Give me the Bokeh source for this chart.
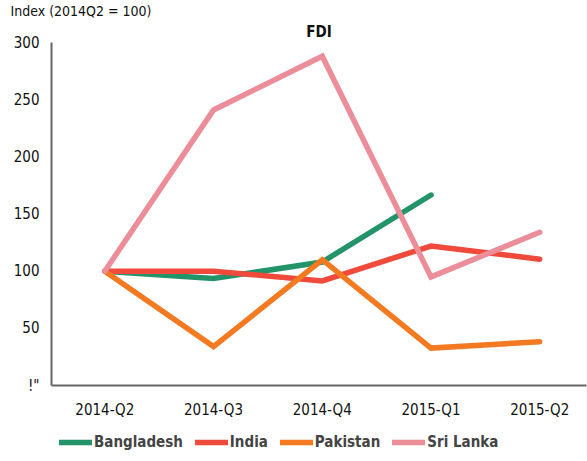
from bokeh.plotting import figure
from bokeh.embed import file_html
from bokeh.resources import INLINE
from bokeh.layouts import column
from bokeh.models import FixedTicker, Range1d, Legend, LegendItem, Title

quarters = ["2014-Q2", "2014-Q3", "2014-Q4", "2015-Q1", "2015-Q2"]
bangladesh = [100, 93.6, 108, 166.6]
india = [100, 100, 91.5, 122, 110.5]
pakistan = [100, 34, 110, 32.7, 38.3]
sri_lanka = [100, 241, 288, 95, 134]
y_ticks = [0, 50, 100, 150, 200, 250, 300]
y_tick_labels = ['!"', "50", "100", "150", "200", "250", "300"]

series = [
    ("Bangladesh", bangladesh, "#23936a"),
    ("India", india, "#ef4a3c"),
    ("Pakistan", pakistan, "#f47a22"),
    ("Sri Lanka", sri_lanka, "#ec8e99"),
]

FONT = "DejaVu Sans Condensed"

p = figure(frame_width=535, frame_height=343, output_backend="svg", toolbar_location=None,
           x_range=Range1d(-0.49, 4.43), y_range=Range1d(0, 300),
           min_border_left=51, min_border_right=1, min_border_top=0,
           min_border_bottom=0)
p.outline_line_color = None
p.grid.visible = False
p.background_fill_color = "white"

for name, vals, col in series:
    p.line(list(range(len(vals))), vals, line_color=col, line_width=5.5,
           line_cap="round", line_join="miter")

p.xaxis.ticker = FixedTicker(ticks=list(range(len(quarters))))
p.xaxis.major_label_overrides = {i: q for i, q in enumerate(quarters)}
p.yaxis.ticker = FixedTicker(ticks=y_ticks)
p.yaxis.major_label_overrides = {t: l for t, l in zip(y_ticks, y_tick_labels)}

for ax in (p.xaxis[0], p.yaxis[0]):
    ax.axis_line_color = "#666666"
    ax.axis_line_width = 2
    ax.major_tick_line_color = None
    ax.minor_tick_line_color = None
    ax.major_label_text_font = FONT
    ax.major_label_text_font_size = "15px"
    ax.major_label_text_color = "#111111"
p.xaxis.major_label_standoff = 9
p.yaxis.major_label_standoff = 6

p.title.text = "Index (2014Q2 = 100)"
p.title.align = "left"
p.title.offset = -41
p.title.text_font = FONT
p.title.text_font_style = "normal"
p.title.text_font_size = "14px"
p.title.text_color = "#111111"
p.title.standoff = 0
p.add_layout(Title(text="FDI", align="center", text_font=FONT, text_font_style="bold",
                   text_font_size="15px", text_color="#111111", standoff=4), "above")

# legend strip below the chart
lg = figure(width=587, height=36, output_backend="svg", toolbar_location=None,
            x_range=Range1d(0, 1), y_range=Range1d(1000, 1001),
            min_border=0, x_axis_type=None, y_axis_type=None)
lg.outline_line_color = None
lg.grid.visible = False
items = []
for name, vals, col in series:
    r = lg.line(list(range(len(vals))), vals, line_color=col, line_width=5.5,
                line_cap="round")
    items.append(LegendItem(label=name, renderers=[r]))
legend = Legend(items=items, orientation="horizontal", location=(8, 6),
                label_text_font=FONT, label_text_font_style="bold",
                label_text_font_size="15px", glyph_width=33, glyph_height=16,
                spacing=12, label_standoff=2, border_line_color=None,
                background_fill_alpha=0, padding=0, margin=0)
lg.add_layout(legend)

open("out.html", "w").write(file_html(column(p, lg, spacing=0), INLINE))
